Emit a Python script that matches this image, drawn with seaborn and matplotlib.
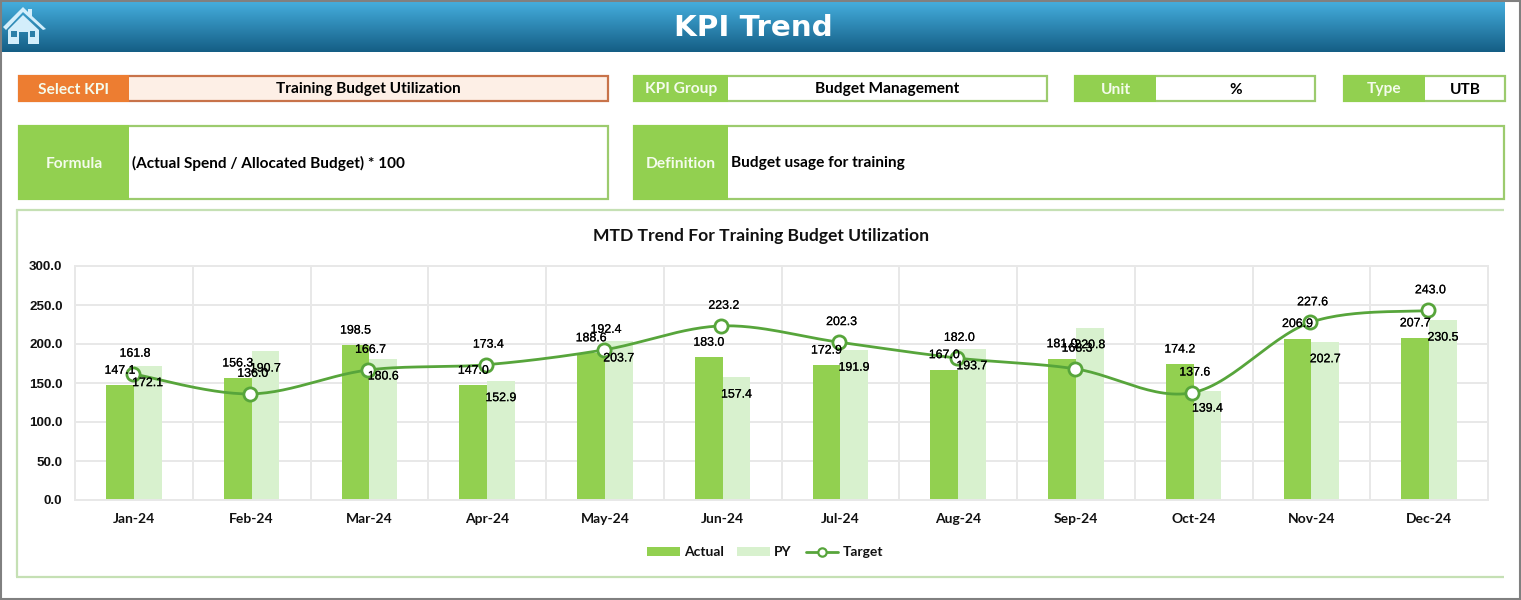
import numpy as np
import pandas as pd
import matplotlib
matplotlib.use("Agg")
import matplotlib.pyplot as plt
import matplotlib.patheffects as pe
from matplotlib.lines import Line2D
from matplotlib.patches import Patch, Rectangle, Polygon
import seaborn as sns

months = ["Jan-24","Feb-24","Mar-24","Apr-24","May-24","Jun-24","Jul-24","Aug-24","Sep-24","Oct-24","Nov-24","Dec-24"]
actual = [147.1,156.3,198.5,147.0,188.6,183.0,172.9,167.0,181.0,174.2,206.9,207.7]
py = [172.1,190.7,180.6,152.9,203.7,157.4,191.9,193.7,220.8,139.4,202.7,230.5]
target = [161.8,136.0,166.7,173.4,192.4,223.2,202.3,182.0,168.3,137.6,227.6,243.0]

W, H = 1521, 600
GREEN = "#92D050"; LIGHT = "#D8F1CE"; LINE = "#57A53B"; ORANGE = "#ED7D31"
SOFT = "#C5E0B4"; BOX = "#9CCB6E"
sans = "Liberation Sans"; head = "Lato"

sns.set_theme(style="whitegrid")
fig = plt.figure(figsize=(W/100, H/100), dpi=100, facecolor="white")

# page overlay in pixel coordinates
bg = fig.add_axes([0, 0, 1, 1], zorder=0)
bg.set_xlim(0, W); bg.set_ylim(H, 0); bg.axis("off")
grad = np.linspace(0, 1, 100)[:, None]
c0, c1 = np.array([0x45, 0xAD, 0xDD])/255, np.array([0x14, 0x5E, 0x85])/255
bg.imshow(c0 + (c1 - c0)*grad[..., None], extent=[2, 1505, 52, 2], aspect="auto", interpolation="bilinear")
bg.set_xlim(0, W); bg.set_ylim(H, 0)
bg.add_patch(Rectangle((0.5, 0.5), W-2, H-2, fill=False, ec="#808080", lw=1.5))
bg.text(753, 28, "KPI Trend", color="white", fontsize=21.2, fontweight="bold", family="DejaVu Sans", ha="center", va="center")

# home icon
ic = "#D3EEFB"
bg.add_patch(Polygon([[3,27],[23,7],[28,12],[28,9],[32,9],[32,16],[46,29],[43,30],[23,12],[6,30]], fc=ic, ec="none"))
bg.add_patch(Polygon([[8,30],[23,15],[39,30],[39,44],[28,44],[28,32],[19,32],[19,44],[8,44]], fc=ic, ec="none"))
bg.add_patch(Rectangle((11,31),5.5,5.5,fc="#2B7FA8",ec="none"))
bg.add_patch(Rectangle((29.5,31),5.5,5.5,fc="#2B7FA8",ec="none"))

def field(x0, x1, xs, y0, y1, label, value, col=GREEN, edge=BOX, fill="white", left=False, lfs=11.2, sz=11.1):
    bg.add_patch(Rectangle((x0, y0), x1-x0, y1-y0, fc=fill, ec=edge, lw=1.6))
    bg.add_patch(Rectangle((x0-1, y0-1), xs-x0+1, y1-y0+2, fc=col, ec="none"))
    bg.text((x0+xs)/2, (y0+y1)/2+1, label, color="#F4FBEC", fontsize=lfs, fontweight="bold", family=head, ha="center", va="center")
    if left:
        bg.text(xs+3, (y0+y1)/2+1, value, color="black", fontsize=sz, fontweight="bold", family=head, ha="left", va="center")
    else:
        bg.text((xs+x1)/2, (y0+y1)/2+1, value, color="black", fontsize=sz, fontweight="bold", family=head, ha="center", va="center")

field(19, 608, 129, 76, 101, "Select KPI", "Training Budget Utilization", col=ORANGE, edge="#C8734A", fill="#FDEFE6")
field(634, 1047, 728, 76, 101, "KPI Group", "Budget Management")
field(1075, 1315, 1156, 76, 101, "Unit", "%")
field(1344, 1505, 1425, 76, 101, "Type", "UTB")
field(19, 608, 129, 126, 199, "Formula", "(Actual Spend / Allocated Budget) * 100", left=True)
field(634, 1504, 728, 126, 199, "Definition", "Budget usage for training", left=True)

# chart panel
for xs, ys in [([16, 1504], [209.5, 209.5]), ([16, 1504], [577, 577]), ([16.5, 16.5], [209, 577])]:
    bg.plot(xs, ys, color=SOFT, lw=1.6, solid_capstyle="butt")
bg.text(761.5, 235.5, "MTD Trend For Training Budget Utilization", color="#111111", fontsize=12.6, fontweight="bold", family=head, ha="center", va="center")

# chart
L, R, T, B = 75, 1488, 266, 500
ax = fig.add_axes([L/W, 1-B/H, (R-L)/W, (B-T)/H], zorder=1)
ax.patch.set_alpha(0)
df = pd.DataFrame({"Month": months*2, "Value": actual+py, "Series": ["Actual"]*12+["PY"]*12})
sns.barplot(data=df, x="Month", y="Value", hue="Series", palette={"Actual": GREEN, "PY": LIGHT},
            width=0.47, gap=0, saturation=1, legend=False, ax=ax, zorder=2, edgecolor="none", linewidth=0)
ax.set_xlim(-0.5, 11.5); ax.set_ylim(0, 300)
ax.set_xlabel(""); ax.set_ylabel("")
ax.set_yticks(np.arange(0, 301, 50))
ax.set_yticklabels([f"{v:.1f}" for v in np.arange(0, 301, 50)], fontsize=9.6, fontweight="bold", family=sans, color="#111111")
ax.set_xticks(np.arange(-0.5, 12), minor=True)
ax.tick_params(axis="x", which="major", length=0, pad=9.5)
ax.tick_params(axis="x", which="minor", length=4, color="#E3E3E3", width=1.2)
ax.tick_params(axis="y", length=0, pad=9)
for t in ax.get_xticklabels():
    t.set_fontsize(10); t.set_fontweight("bold"); t.set_family(head); t.set_color("#111111")
ax.grid(False)
ax.grid(True, which="minor", axis="x", color="#E8E8E8", lw=1.4)
ax.grid(True, which="major", axis="y", color="#E8E8E8", lw=1.4)
ax.set_axisbelow(True)
for s in ax.spines.values():
    s.set_color("#E8E8E8"); s.set_linewidth(1.4)

# Excel-style smoothed target line (cardinal spline through the values)
x = np.arange(12.0); y = np.array(target, float)
px = np.r_[x[0], x, x[-1]]; py_ = np.r_[y[0], y, y[-1]]
sx, sy = [], []
for i in range(1, 12):
    t = np.linspace(0, 1, 30)
    h00, h10, h01, h11 = 2*t**3-3*t**2+1, t**3-2*t**2+t, -2*t**3+3*t**2, t**3-t**2
    m0x, m1x = (px[i+1]-px[i-1])/2, (px[i+2]-px[i])/2
    m0y, m1y = (py_[i+1]-py_[i-1])/2, (py_[i+2]-py_[i])/2
    sx += list(h00*px[i]+h10*m0x+h01*px[i+1]+h11*m1x)
    sy += list(h00*py_[i]+h10*m0y+h01*py_[i+1]+h11*m1y)
ax.plot(np.array(sx)-0.01, sy, color=LINE, lw=2.0, zorder=4, solid_capstyle="round")
sns.scatterplot(x=x-0.01, y=target, s=90, color="white", edgecolor=LINE, linewidth=2.0, ax=ax, zorder=5, legend=False, clip_on=False)

# data labels (offsets in points from each mark, as in the reference)
fx = dict(fontsize=8.9, family=sans, color="black", ha="center", va="center", zorder=6,
          path_effects=[pe.withStroke(linewidth=0.12, foreground="black")])
bw = 0.47/2
for i in range(12):
    ax.annotate(f"{actual[i]:.1f}", (i-bw/2, actual[i]), xytext=(0, 10.5), textcoords="offset points", **fx)
    ax.annotate(f"{py[i]:.1f}", (i+bw/2, py[i]), xytext=(0, -12.5), textcoords="offset points", **fx)
    ax.annotate(f"{target[i]:.1f}", (i+0.01, target[i]), xytext=(0, 14.5), textcoords="offset points", **fx)

# legend
handles = [Patch(fc=GREEN, ec="none", label="Actual"), Patch(fc=LIGHT, ec="none", label="PY"),
           Line2D([0], [0], color=LINE, lw=2.0, marker="o", ms=6, mfc="white", mec=LINE, mew=1.6, label="Target")]
leg = fig.legend(handles=handles, loc="center", bbox_to_anchor=(765/W, 1-552.5/H), ncol=3, frameon=False,
                 handlelength=2.35, handleheight=0.6, columnspacing=1.0, handletextpad=0.3,
                 prop={"family": head, "weight": "bold", "size": 10})
for t in leg.get_texts():
    t.set_color("#111111")

fig.savefig("out.png", dpi=100)
